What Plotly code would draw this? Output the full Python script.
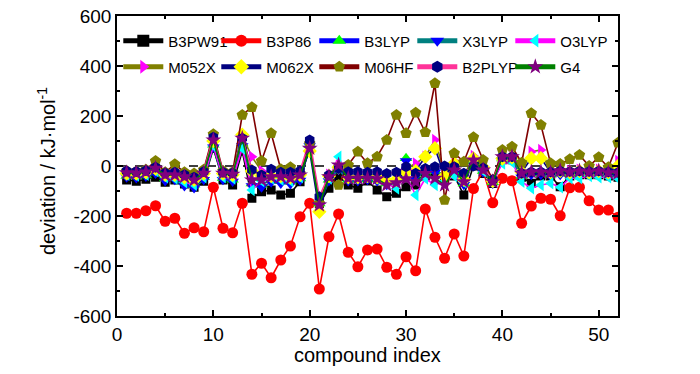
import plotly.graph_objects as go

compound_index = list(range(1, 53))

B3PW91 = [-56,-61,-53,-45,-65,-56,-72,-85,-61,70,
          -56,-76,60,-129,-103,-96,-116,-109,-63,80,
          -150,-89,-40,-76,-89,-60,-96,-123,-109,-83,
          -76,-40,-35,-45,-40,-116,0,-30,-70,25,
          25,-45,-69,-40,-40,-83,-40,-35,-35,-35,
          -40,-45]
B3P86 = [-189,-189,-179,-159,-221,-209,-269,-247,-263,-85,
         -249,-267,-149,-433,-389,-447,-376,-320,-203,-149,
         -492,-283,-192,-345,-403,-336,-332,-405,-433,-363,
         -419,-172,-285,-369,-272,-360,-90,-19,-147,-49,
         -59,-229,-160,-129,-133,-199,-87,-85,-139,-176,
         -176,-205]
B3LYP = [-40,-42,-38,-25,-50,-48,-62,-75,-45,85,
         -48,-55,90,-70,-75,-55,-60,-62,-50,85,
         -150,-55,-10,-55,-55,-50,-55,-70,-62,31,
         -50,-10,-20,-35,-20,-70,20,-20,-65,30,
         30,-40,-30,-30,-35,-30,-30,-30,-30,-30,
         -35,-35]
X3LYP = [-45,-48,-42,-30,-60,-55,-80,-88,-55,75,
         -55,-62,80,-80,-85,-65,-70,-72,-58,80,
         -155,-60,-15,-60,-60,-55,-60,-75,-68,20,
         -55,-15,-25,-40,-25,-75,15,-25,-70,25,
         25,-45,-35,-35,-40,-35,-35,-35,-35,-35,
         -40,-40]
O3LYP = [-35,-38,-35,-20,-45,-50,-65,-75,-45,80,
         -45,-50,70,-96,-60,-50,-55,-60,-45,85,
         -140,-50,37,-45,-45,-40,-50,-70,-90,-40,
         -116,-50,-76,-60,-40,-65,15,-20,-60,10,
         15,-63,-89,-76,-69,-85,-49,-49,-40,-45,
         -45,-50]
M052X = [-25,-28,-22,-5,-30,-30,-40,-50,-25,110,
         -25,-30,120,37,-20,-35,-35,-40,-30,75,
         -150,-35,0,-40,-40,-35,-35,-55,-50,-10,
         10,37,104,-30,20,-40,40,0,-55,40,
         40,-20,57,64,-20,-15,-20,-15,-20,-15,
         -20,20]
M062X = [-30,-30,-25,-10,-35,-35,-45,-55,-30,100,
         -30,-35,125,-20,-40,-40,-40,-45,-35,60,
         -183,-40,-5,-45,-45,-40,-45,-60,-55,-25,
         -20,37,71,-40,10,-55,30,-5,-60,30,
         35,-25,31,31,-25,-20,-25,-20,-25,-20,
         -25,0]
M06HF = [-20,-22,-15,20,-25,7,-25,-30,-15,127,
         -20,-25,204,235,20,131,-13,-5,-30,90,
         -150,-40,-76,4,57,11,37,104,204,131,
         213,135,331,-136,51,17,115,24,-56,64,
         77,13,211,164,11,8,27,44,0,35,
         -5,93]
B2PLYP = [-20,-22,-18,-5,-28,-25,-35,-45,-22,115,
          -25,-28,111,-16,-36,-13,-25,-25,-20,104,
          -123,-36,-10,-23,-23,-25,-23,-30,-25,-3,
          -29,-10,-3,0,-3,-29,0,-8,-55,37,
          37,-29,-24,-24,-24,-20,-22,-20,-22,-20,
          -24,-26]
G4 = [-27,-29,-24,-9,-36,-36,-43,-56,-29,104,
      -29,-33,111,-56,-56,-43,-43,-49,-36,71,
      -156,-43,4,-49,-49,-49,-51,-76,-67,-51,
      -63,-30,-49,-76,-16,-63,24,-16,-63,37,
      37,-29,-24,-24,-27,-19,-24,-20,-24,-20,
      -27,-29]

x_tickvals = [0, 10, 20, 30, 40, 50]
y_tickvals = [-600, -400, -200, 0, 200, 400, 600]
y_ticktext = ["-600", "-400", "-200", "0", "200", "400", "600"]

series = [
    ("B3PW91", B3PW91, "square", "#000000", "#000000", 9, "legend"),
    ("B3P86", B3P86, "circle", "#ff0000", "#ff0000", 11, "legend"),
    ("B3LYP", B3LYP, "triangle-up", "#00ff00", "#0000ff", 11, "legend"),
    ("X3LYP", X3LYP, "triangle-down", "#0000ff", "#008080", 11, "legend"),
    ("O3LYP", O3LYP, "triangle-left", "#00ffff", "#ff00ff", 11, "legend"),
    ("M052X", M052X, "triangle-right", "#ff00ff", "#808000", 11, "legend2"),
    ("M062X", M062X, "diamond", "#ffff00", "#000080", 11, "legend2"),
    ("M06HF", M06HF, "pentagon", "#808000", "#800000", 12, "legend2"),
    ("B2PLYP", B2PLYP, "hexagon", "#000080", "#ff3399", 11, "legend2"),
    ("G4", G4, "star", "#800080", "#008000", 12, "legend2"),
]

FONT = "Liberation Sans, Arial, sans-serif"

fig = go.Figure()
for name, vals, sym, mcol, lcol, msize, leg in series:
    fig.add_trace(go.Scatter(
        x=compound_index, y=vals, name=name, mode="lines+markers", legend=leg,
        line=dict(color=lcol, width=1.6),
        marker=dict(symbol=sym, color=mcol, size=msize, line=dict(width=0)),
    ))

fig.add_shape(type="line", xref="x", yref="y", x0=0, x1=52, y0=0, y1=0,
              line=dict(color="black", width=1.5, dash="dash"), layer="below")

axis_common = dict(
    showgrid=False, zeroline=False, showline=True, linecolor="black", linewidth=1.5,
    mirror="allticks", ticks="inside", ticklen=6, tickwidth=1.5, tickcolor="black",
    tickfont=dict(family=FONT, size=19, color="black"), automargin=False,
)
fig.update_xaxes(range=[0, 52], tickvals=x_tickvals,
                 minor=dict(dtick=5, tick0=0, ticks="inside", ticklen=3, tickwidth=1.5, tickcolor="black"),
                 **axis_common)
fig.update_yaxes(range=[-600, 600], tickvals=y_tickvals, ticktext=y_ticktext,
                 minor=dict(dtick=100, tick0=-600, ticks="inside", ticklen=3, tickwidth=1.5, tickcolor="black"),
                 **axis_common)

fig.add_annotation(text="compound index", xref="paper", yref="paper",
                   x=0.5, y=0, yshift=-39, xanchor="center", yanchor="middle", showarrow=False,
                   font=dict(family=FONT, size=20, color="black"))
fig.add_annotation(text="deviation / kJ·mol<sup>-1</sup>", xref="paper", yref="paper",
                   x=0, y=0.5, xshift=-71, yshift=-5, xanchor="center", yanchor="middle",
                   textangle=-90, showarrow=False,
                   font=dict(family=FONT, size=20, color="black"))

legend_common = dict(orientation="h", xref="container", x=0.169, xanchor="left", yanchor="middle",
                     bgcolor="rgba(0,0,0,0)", font=dict(family=FONT, size=15, color="black"),
                     entrywidth=43, entrywidthmode="pixels", itemwidth=40,
                     tracegroupgap=0, itemsizing="constant")

fig.update_layout(
    width=700, height=374,
    margin=dict(l=117, r=82, t=16, b=58, autoexpand=False),
    paper_bgcolor="white", plot_bgcolor="white",
    showlegend=True,
    legend=dict(y=0.917, **legend_common),
    legend2=dict(y=0.83, **legend_common),
)

fig.write_html("out.html", config={"displayModeBar": False},
               post_script="document.body.style.margin='0px';")
